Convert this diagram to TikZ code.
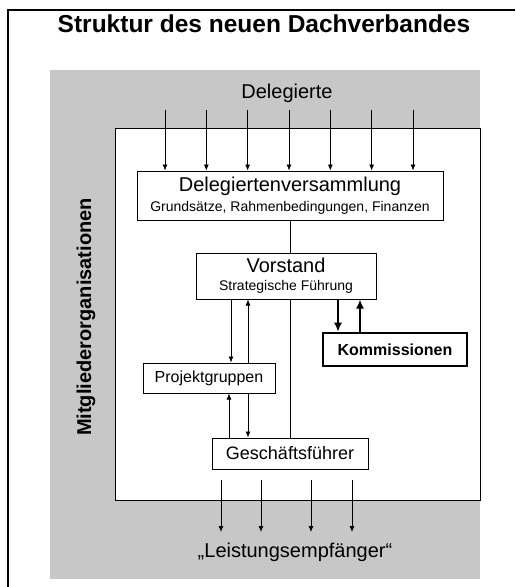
\documentclass[tikz,border=0pt]{standalone}
\usepackage{fontspec}
\setmainfont{Liberation Sans}
\usetikzlibrary{positioning,arrows.meta}
\begin{document}
\begin{tikzpicture}[
  x=1pt,y=-1pt,
  >={Latex[length=6pt,width=5pt]},
  box/.style={draw,fill=white,line width=1pt,inner sep=0pt,align=center},
  boldbox/.style={box,line width=2.6pt,font=\fontsize{16}{18}\selectfont\bfseries},
  flow/.style={->,line width=0.75pt},
  bigflow/.style={-{Latex[length=9pt,width=8pt]},line width=1.6pt},
  big/.style={font=\fontsize{20}{22}\selectfont},
  small/.style={font=\fontsize{14}{18}\selectfont}
]
  \useasboundingbox (0,0) rectangle (515,587);
  \fill[black!22] (50,70) rectangle (480,579);
  \draw[line width=2.8pt] (8,587) -- (8,10) -- (515,10);
  \draw[fill=white,line width=1pt] (115,128) rectangle (480,500);

  \node[font=\fontsize{24.5}{26}\selectfont\bfseries,anchor=base] (title) at (264,32) {Struktur des neuen Dachverbandes};
  \node[big,anchor=base] (deleg) at (287,98) {Delegierte};
  \node[font=\fontsize{20}{22}\selectfont\bfseries,rotate=90] (mitglied) at (86,317) {Mitgliederorganisationen};

  \node[box,small,minimum width=306pt,minimum height=49pt] (dv) at (290,195.5)
    {{\fontsize{20}{20}\selectfont Delegiertenversammlung}\\[2pt]Grundsätze, Rahmenbedingungen, Finanzen};
  \node[box,small,minimum width=180pt,minimum height=46pt] (vs) at (286,276)
    {{\fontsize{20}{20}\selectfont Vorstand}\\Strategische Führung};
  \node[boldbox,minimum width=144pt,minimum height=33pt] (komm) at (395,349.5) {Kommissionen};
  \node[box,font=\fontsize{16}{18}\selectfont,minimum width=132pt,minimum height=30pt] (pg) at (209,378) {Projektgruppen};
  \node[box,font=\fontsize{18}{20}\selectfont,minimum width=156pt,minimum height=31pt] (gf) at (290,453.5) {Geschäftsführer};
  \node[big,anchor=base] (leist) at (295,557) {„Leistungsempfänger“};

  \foreach \i in {0,...,6}{
    \coordinate (d\i) at (165+41.33*\i,110);
    \draw[flow] (d\i) -- (d\i |- dv.north);
  }
  \draw[line width=0.75pt] (dv.south) -- (vs.north -| dv.south);
  \draw[line width=0.75pt] (vs.south -| gf.north) -- (gf.north);

  \draw[flow] ([xshift=-55pt]vs.south) -- ([xshift=22pt]pg.north);
  \draw[flow] ([xshift=39pt]pg.north) -- ([xshift=-38pt]vs.south);
  \draw[bigflow] ([xshift=52pt]vs.south) -- ([xshift=-57pt]komm.north);
  \draw[bigflow] ([xshift=-35pt]komm.north) -- ([xshift=74pt]vs.south);
  \draw[flow] ([xshift=-61pt]gf.north) -- ([xshift=20pt]pg.south);
  \draw[flow] ([xshift=39pt]pg.south) -- ([xshift=-42pt]gf.north);

  \foreach \x [count=\i] in {221,261,311,352}{
    \coordinate (l\i) at (\x,480);
    \draw[flow] (l\i) -- ++(0,52);
  }
\end{tikzpicture}
\end{document}
